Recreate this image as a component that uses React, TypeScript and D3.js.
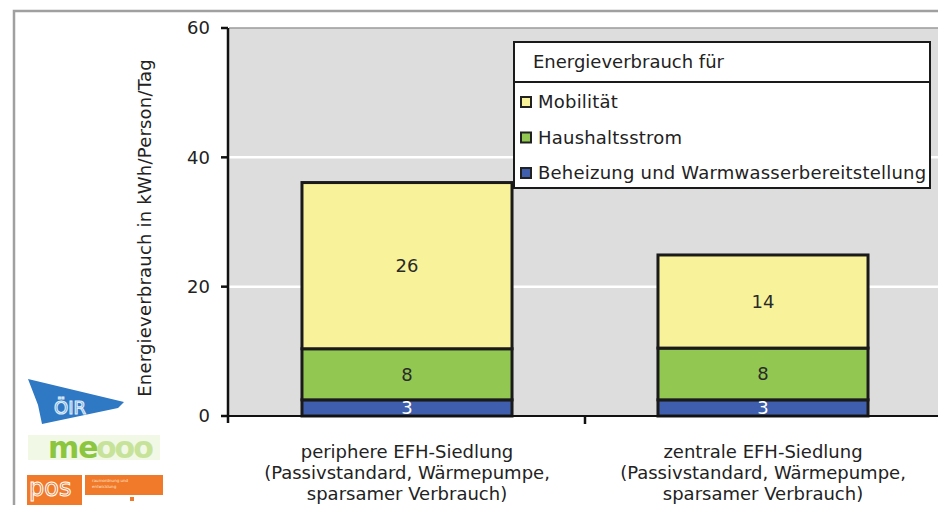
import React from "react";
import * as d3 from "d3";

const categories = [
  ["periphere EFH-Siedlung", "(Passivstandard, Wärmepumpe,", "sparsamer Verbrauch)"],
  ["zentrale EFH-Siedlung", "(Passivstandard, Wärmepumpe,", "sparsamer Verbrauch)"],
];
const seriesNames = ["Beheizung und Warmwasserbereitstellung", "Haushaltsstrom", "Mobilität"];
const heating = [2.5, 2.5];
const household = [7.9, 8.0];
const mobility = [25.7, 14.4];
const yTicks = [0, 20, 40, 60];
const colors = ["#3f5fae", "#92c852", "#f8f29a"];
const labelColors = ["#ffffff", "#2a2a2a", "#2a2a2a"];
const legendOrder = [2, 1, 0];
const legendTitle = "Energieverbrauch für";
const yTitle = "Energieverbrauch in kWh/Person/Tag";

const W = 938, H = 505;
const FONT = "'DejaVu Sans', Verdana, sans-serif";

export default function App() {
  const y = d3.scaleLinear().domain([0, 60]).range([416, 28]);
  const x = d3.scaleBand<number>().domain([0, 1]).range([229, 941]).padding(0);
  const barW = x.bandwidth() * 0.59;
  const rows = categories.map((_, i) => ({ i, s0: heating[i], s1: household[i], s2: mobility[i] }));
  const stack = d3.stack<any>().keys(["s0", "s1", "s2"]);
  const layers = stack(rows);

  return (
    <svg width={W} height={H} style={{ position: "absolute", left: 0, top: 0, display: "block" }} fontFamily={FONT}>
      <rect x={0} y={0} width={W} height={H} fill="#ffffff" />
      {/* outer frame */}
      <path d={`M14,${H} L14,11 L${W},11`} fill="none" stroke="#a0a0a0" strokeWidth={2.5} />

      {/* plot background */}
      <rect x={229} y={y(60)} width={W - 229} height={y(0) - y(60)} fill="#dddddd" />
      <line x1={229} x2={W} y1={y(60)} y2={y(60)} stroke="#9a9a9a" strokeWidth={1.5} />
      {yTicks.filter(t => t > 0 && t < 60).map(t => (
        <line key={t} x1={229} x2={W} y1={y(t)} y2={y(t)} stroke="#ffffff" strokeWidth={2.5} />
      ))}

      {/* bars */}
      {layers.map((layer, k) => (
        <g key={k}>
          {layer.map((d, i) => {
            const cx = x(i)! + x.bandwidth() / 2;
            const y0 = y(d[0]), y1 = y(d[1]);
            return (
              <rect key={i} x={cx - barW / 2} y={y1} width={barW} height={y0 - y1} fill={colors[k]} stroke="#1a1a1a" strokeWidth={3} />
            );
          })}
        </g>
      ))}
      {layers.map((layer, k) => (
        <g key={"l" + k}>
          {layer.map((d, i) => {
            const cx = x(i)! + x.bandwidth() / 2;
            const my = (y(d[0]) + y(d[1])) / 2;
            return (
              <text key={i} x={cx} y={my} dy="0.36em" textAnchor="middle" fontSize={18} fill={labelColors[k]}>
                {Math.round(d[1] - d[0])}
              </text>
            );
          })}
        </g>
      ))}

      {/* axes */}
      <line x1={228} x2={228} y1={y(60)} y2={y(0) + 7} stroke="#111" strokeWidth={2.5} />
      <line x1={228} x2={W} y1={y(0)} y2={y(0)} stroke="#111" strokeWidth={2} />
      {yTicks.map(t => (
        <g key={t}>
          <line x1={221} x2={228} y1={y(t)} y2={y(t)} stroke="#111" strokeWidth={2.5} />
          <text x={210} y={y(t)} dy="0.36em" textAnchor="end" fontSize={18} fill="#222">{t}</text>
        </g>
      ))}
      <line x1={x(1)!} x2={x(1)!} y1={y(0)} y2={y(0) + 8} stroke="#111" strokeWidth={2.5} />
      {categories.map((lines, i) => (
        <text key={i} textAnchor="middle" fontSize={18} fill="#222">
          {lines.map((l, j) => (
            <tspan key={j} x={x(i)! + x.bandwidth() / 2} y={458 + j * 21}>{l}</tspan>
          ))}
        </text>
      ))}
      <text transform={`translate(151,228) rotate(-90)`} textAnchor="middle" fontSize={18} letterSpacing={0.2} fill="#222">{yTitle}</text>

      {/* legend */}
      <rect x={514} y={42} width={416} height={146} fill="#ffffff" stroke="#1a1a1a" strokeWidth={2} />
      <line x1={514} x2={930} y1={82} y2={82} stroke="#1a1a1a" strokeWidth={2} />
      <text x={533} y={68} fontSize={18} fill="#222">{legendTitle}</text>
      {legendOrder.map((k, j) => (
        <g key={k}>
          <rect x={521} y={97 + j * 35.5} width={10} height={10} fill={colors[k]} stroke="#222" strokeWidth={2} />
          <text x={538} y={102 + j * 35.5} dy="0.36em" fontSize={18} letterSpacing={0.22} fill="#222">{seriesNames[k]}</text>
        </g>
      ))}

      {/* logos */}
      <g>
        <path d="M28,379 L124,402 L118,408 L42,424 L38,405 Z" fill="#2f78c4" />
        <text x={54} y={414} fontSize={18} fill="none" stroke="#dbeafa" strokeWidth={1.2}>ÖIR</text>
        <rect x={28} y={435} width={132} height={25} fill="#f1f8e6" />
        <text x={48} y={458} fontSize={30} fontWeight="bold" fill="#8cc63f" letterSpacing={-1}>me</text>
        <text x={96} y={458} fontSize={30} fontWeight="bold" fill="#c7e39a" letterSpacing={-2}>ooo</text>
        <rect x={27} y={475} width={55} height={30} fill="#f07a2a" />
        <rect x={85} y={475} width={78} height={20} fill="#f07a2a" />
        <text x={29} y={496} fontSize={24} fill="none" stroke="#ffffff" strokeWidth={1}>pos</text>
        <text x={92} y={482} fontSize={4} fill="#ffe3cc">raumordnung und</text>
        <text x={92} y={488} fontSize={4} fill="#ffe3cc">entwicklung</text>
        <rect x={130} y={497} width={4} height={4} fill="#f07a2a" />
      </g>
    </svg>
  );
}
